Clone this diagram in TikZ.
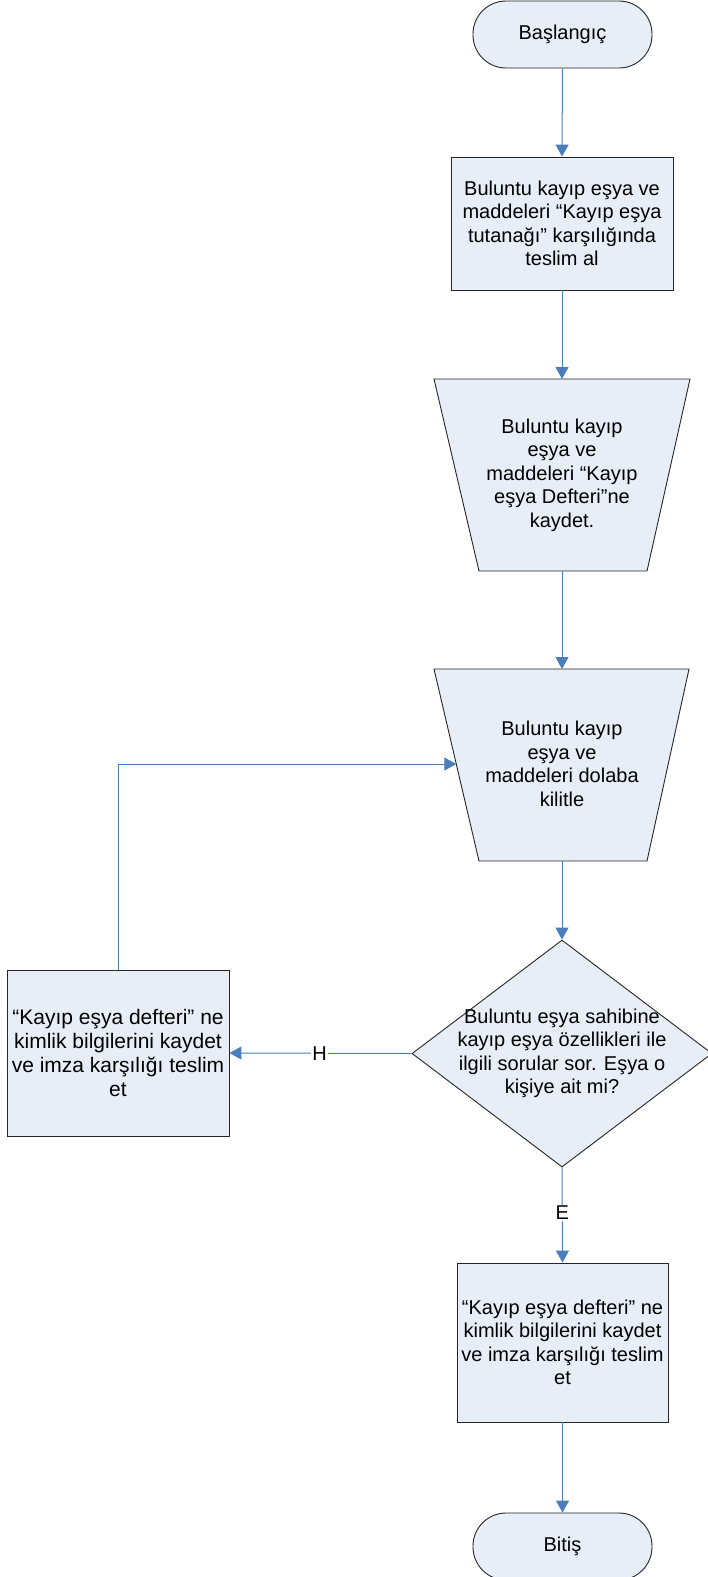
\documentclass[tikz,border=0pt]{standalone}
\usepackage{fontspec}
\setmainfont{Liberation Sans}
\usetikzlibrary{arrows.meta,shapes.geometric,calc}
\definecolor{boxfill}{HTML}{E8EEF7}
\definecolor{conn}{HTML}{4A7EBB}
\begin{document}
\begin{tikzpicture}[x=1pt,y=-1pt,
  every node/.style={font=\fontsize{20}{23.5}\selectfont, align=center},
  shapeline/.style={draw=black!85, line width=0.9pt, fill=boxfill},
  termbox/.style={shapeline, rectangle, rounded corners=33pt, minimum width=179pt, minimum height=67pt, inner sep=0pt},
  procbox/.style={shapeline, rectangle, inner sep=0pt},
  txt/.style={inner sep=0pt},
  connector/.style={draw=conn, line width=1pt, -{Triangle[length=12pt,width=13pt]}},
  lbl/.style={fill=white, inner sep=1.5pt}
]
\useasboundingbox (0,0) rectangle (707,1577);

% Start
\node[termbox] (start) at (562.5,34.5) {Başlangıç};

% Box 1
\node[procbox, minimum width=222pt, minimum height=133pt] (b1) at (562,223.5)
  {Buluntu kayıp eşya ve\\maddeleri “Kayıp eşya\\tutanağı” karşılığında\\teslim al};

% Trapezoid 1
\coordinate (t1tl) at (434,379);
\coordinate (t1tr) at (690,379);
\coordinate (t1br) at (647,571);
\coordinate (t1bl) at (479,571);
\coordinate (t1top) at (562,379);
\coordinate (t1bot) at (562,571);
\filldraw[shapeline] (t1tl) -- (t1tr) -- (t1br) -- (t1bl) -- cycle;
\node[txt] (t1) at (562,475) {Buluntu kayıp\\eşya ve\\maddeleri “Kayıp\\eşya Defteri”ne\\kaydet.};

% Trapezoid 2
\coordinate (t2tl) at (434,669);
\coordinate (t2tr) at (689,669);
\coordinate (t2br) at (647,861);
\coordinate (t2bl) at (479,861);
\coordinate (t2top) at (562,669);
\coordinate (t2bot) at (562,861);
\coordinate (t2left) at ($(t2tl)!0.495!(t2bl)$);
\filldraw[shapeline] (t2tl) -- (t2tr) -- (t2br) -- (t2bl) -- cycle;
\node[txt] (t2) at (562,764) {Buluntu kayıp\\eşya ve\\maddeleri dolaba\\kilitle};

% Diamond
\node[shapeline, diamond, minimum width=300pt, minimum height=227pt, inner sep=0pt] (d) at (562,1053.5) {};
\node[txt] (dtxt) at (d.center) {Buluntu eşya sahibine\\kayıp eşya özellikleri ile\\ilgili sorular sor. Eşya o\\kişiye ait mi?};

% Left box
\node[procbox, minimum width=222pt, minimum height=166pt, font=\fontsize{21}{23.8}\selectfont] (lb) at (118,1053)
  {“Kayıp eşya defteri” ne\\kimlik bilgilerini kaydet\\ve imza karşılığı teslim\\et};

% Bottom box
\node[procbox, minimum width=211pt, minimum height=159pt] (bb) at (562.5,1342.5)
  {“Kayıp eşya defteri” ne\\kimlik bilgilerini kaydet\\ve imza karşılığı teslim\\et};

% End
\node[termbox] (end) at (562.5,1546.5) {Bitiş};

% Connectors
\draw[connector] (start.south) -- (b1.north);
\draw[connector] (b1.south) -- (t1top);
\draw[connector] (t1bot) -- (t2top);
\draw[connector] (t2bot) -- (d.north);
\draw[connector] (d.west) -- node[lbl, pos=0.505] (hl) {H} (lb.east);
\draw[connector] (lb.north) |- (t2left);
\draw[connector] (d.south) -- node[lbl, pos=0.48] (el) {E} (bb.north);
\draw[connector] (bb.south) -- (end.north);
\end{tikzpicture}
\end{document}
